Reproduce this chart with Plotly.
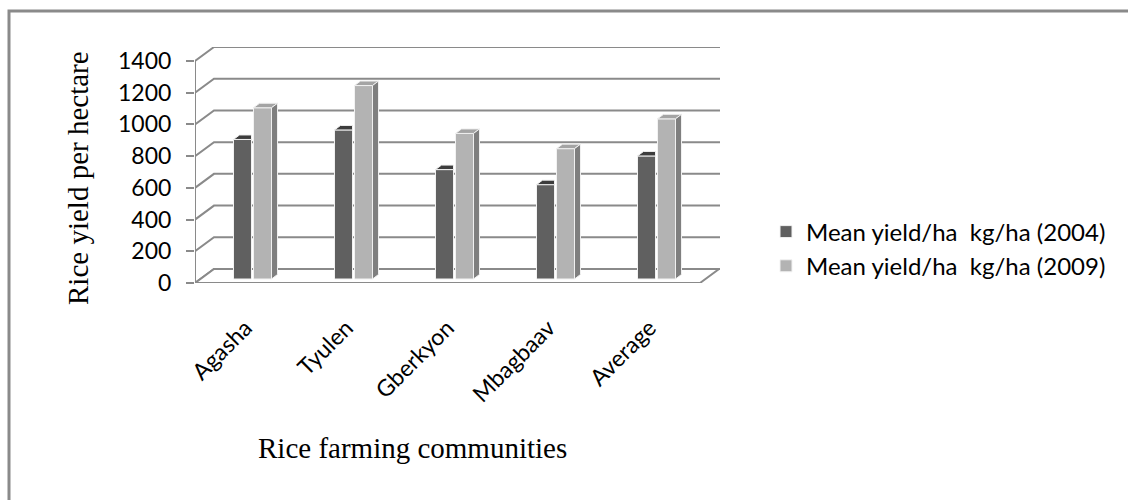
import plotly.graph_objects as go

# ---------------- data ----------------
categories = ["Agasha", "Tyulen", "Gberkyon", "Mbagbaav", "Average"]
yield_2004 = [880, 940, 690, 595, 776]
yield_2009 = [1080, 1220, 918, 822, 1010]
y_ticks = [0, 200, 400, 600, 800, 1000, 1200, 1400]
series_names = ["Mean yield/ha \u00a0kg/ha (2004)", "Mean yield/ha \u00a0kg/ha (2009)"]

# ---------------- geometry / style ----------------
W, H = 1128, 500
ML, MR, MT, MB = 195, 408, 47, 217
PW, PH = W - ML - MR, H - MT - MB
CAT_PX = 101.0                      # pixels per category
Y_PX = 222.0 / 1400.0               # pixels per value unit
XR = [-0.5, -0.5 + PW / CAT_PX]
YR = [0, PH / Y_PX]


def ux(px):
    return px / CAT_PX


def uy(px):
    return px / Y_PX


WALL_DX, WALL_DY = ux(19), uy(14)     # depth of back wall
PLANE_DX, PLANE_DY = ux(7), uy(4)     # plane of the bars
BAR_DX, BAR_DY = ux(6), uy(4.5)       # bar depth
BAR_W = ux(18)
BAR_GAP = ux(2)

GRID = "#8a8a8a"
SERIF = "Liberation Serif"
SANS = "Lato"

COLORS = [
    dict(front="#606060", top="#3c3c3c", side="#3c3c3c"),
    dict(front="#b3b3b3", top="#a4a4a4", side="#7f7f7f"),
]

fig = go.Figure()

# ---------------- back wall gridlines & floor ----------------
shapes = []
x_front_l = XR[0]
x_front_r = XR[0] + len(categories)
for v in y_ticks:
    path = (f"M {x_front_l},{v} L {x_front_l + WALL_DX},{v + WALL_DY} "
            f"L {XR[1]},{v + WALL_DY}")
    shapes.append(dict(type="path", path=path, xref="x", yref="y",
                       line=dict(color=GRID, width=2), layer="below"))
floor = (f"M {x_front_l},0 L {x_front_r},0 L {x_front_r + WALL_DX},{WALL_DY} "
         f"L {x_front_l + WALL_DX},{WALL_DY} Z")
shapes.append(dict(type="path", path=floor, xref="x", yref="y",
                   fillcolor="white", line=dict(color=GRID, width=2), layer="below"))
# front vertical axis
shapes.append(dict(type="line", xref="x", yref="y", x0=x_front_l, x1=x_front_l,
                   y0=y_ticks[0], y1=y_ticks[-1], line=dict(color=GRID, width=2)))
# outer border (left + top)
bx = (9 - ML) / PW
by = (H - MB - 11) / PH
shapes.append(dict(type="path", xref="paper", yref="paper",
                   path=f"M {bx},{-MB / PH - 0.05} L {bx},{by} L {(W - ML + 10) / PW},{by}",
                   line=dict(color="#8a8a8a", width=3)))

# ---------------- bars ----------------
base = PLANE_DY
for s, (vals, name) in enumerate(zip([yield_2004, yield_2009], series_names)):
    c = COLORS[s]
    sign = -1 if s == 0 else 1
    centers = [i + PLANE_DX + sign * (BAR_W / 2 + BAR_GAP / 2) for i in range(len(categories))]
    fig.add_trace(go.Bar(
        x=centers, y=vals, base=base, width=BAR_W, name=name,
        marker=dict(color=c["front"], line=dict(color="#f2f2f2", width=1)),
        showlegend=True,
    ))
    tx, ty = [], []
    sx, sy = [], []
    for xc, v in zip(centers, vals):
        x0, x1 = xc - BAR_W / 2, xc + BAR_W / 2
        t = base + v
        xr = x1 + BAR_DX if s == 1 else x1
        tx += [x0, x0 + BAR_DX, xr, x1, x0, None]
        ty += [t, t + BAR_DY, t + BAR_DY, t, t, None]
        sx += [x1, x1, x1 + BAR_DX, x1 + BAR_DX, x1, None]
        sy += [base, t, t + BAR_DY, base + BAR_DY, base, None]
    fig.add_trace(go.Scatter(x=tx, y=ty, fill="toself", mode="lines",
                             fillcolor=c["top"], line=dict(color="#f0f0f0", width=1),
                             showlegend=False, hoverinfo="skip"))
    if s == 1:
        fig.add_trace(go.Scatter(x=sx, y=sy, fill="toself", mode="lines",
                                 fillcolor=c["side"], line=dict(color="#f0f0f0", width=1),
                                 showlegend=False, hoverinfo="skip"))

# ---------------- annotations (axis titles) ----------------
annotations = [
    dict(text="Rice yield per hectare", xref="paper", yref="paper",
         x=(78 - ML) / PW, y=(H - MB - 178) / PH, textangle=-90, showarrow=False,
         xanchor="center", yanchor="middle",
         font=dict(family=SERIF, size=29, color="black")),
    dict(text="Rice farming communities", xref="paper", yref="paper",
         x=(412 - ML) / PW, y=(H - MB - 448) / PH, showarrow=False,
         xanchor="center", yanchor="middle",
         font=dict(family=SERIF, size=29, color="black")),
]

fig.update_layout(
    width=W, height=H,
    margin=dict(l=ML, r=MR, t=MT, b=MB),
    paper_bgcolor="white", plot_bgcolor="white",
    barmode="overlay",
    shapes=shapes,
    annotations=annotations,
    showlegend=True,
    legend=dict(x=(766 - ML) / PW, y=(H - MB - 249) / PH, xanchor="left", yanchor="middle",
                font=dict(family=SANS, size=24, color="black"),
                bgcolor="rgba(0,0,0,0)", tracegroupgap=4),
    xaxis=dict(range=XR, showgrid=False, zeroline=False, showline=False,
               tickmode="array", tickvals=list(range(len(categories))), ticktext=categories,
               tickangle=-45, ticks="", ticklabelstandoff=26,
               tickfont=dict(family=SANS, size=23, color="black"), fixedrange=True),
    yaxis=dict(range=YR, showgrid=False, zeroline=False, showline=False,
               tickmode="array", tickvals=y_ticks, ticks="outside", ticklen=8,
               tickwidth=2, tickcolor=GRID, ticklabelstandoff=10,
               tickfont=dict(family=SANS, size=23, color="black"), fixedrange=True),
)

fig.write_html("out.html")
